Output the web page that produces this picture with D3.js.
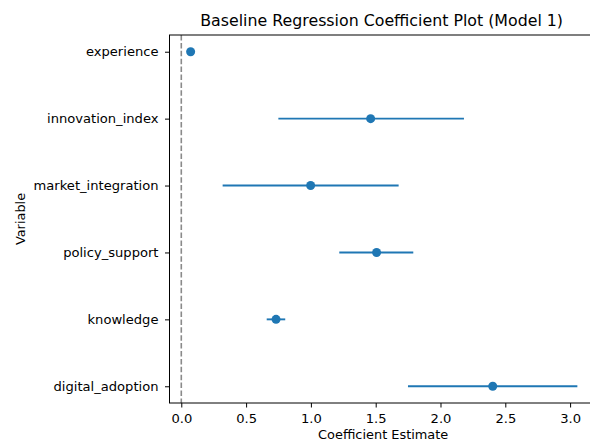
<!DOCTYPE html>
<html>
<head>
<meta charset="utf-8">
<script src="https://cdn.jsdelivr.net/npm/d3@7"></script>
<style>
  body { margin: 0; background: #fff; }
  text { font-family: "DejaVu Sans", sans-serif; fill: #000; }
</style>
</head>
<body>
<div id="chart"></div>
<script>
// coefficient estimates with confidence interval bounds
let variables = ["experience", "innovation_index", "market_integration",
                 "policy_support", "knowledge", "digital_adoption"]
let coefs  = [0.072, 1.461, 0.998, 1.507, 0.731, 2.403]
let ciLow  = [0.059, 0.749, 0.319, 1.219, 0.659, 1.749]
let ciHigh = [0.085, 2.181, 1.677, 1.790, 0.802, 3.056]
let xTicks = [0, 0.5, 1.0, 1.5, 2.0, 2.5, 3.0]

let rows = variables.map((v, i) => ({name: v, coef: coefs[i], lo: ciLow[i], hi: ciHigh[i]}))

let svg_width = 590
let svg_height = 443
let axLeft = 169.5, axRight = 596.8, axTop = 35, axBottom = 403
let blue = "#1f77b4"

let svg = d3.select("#chart")
  .append("svg")
  .attr("width", svg_width)
  .attr("height", svg_height)

// x: coefficient value, y: one slot per variable
let xScale = d3.scaleLinear()
               .domain([-0.091, 3.206])
               .range([axLeft, axRight])

let yScale = d3.scalePoint()
               .domain(variables)
               .range([axTop, axBottom])
               .padding(0.25)

// reference line at zero
svg.append("line")
   .attr("x1", xScale(0)).attr("x2", xScale(0))
   .attr("y1", axTop).attr("y2", axBottom)
   .attr("stroke", "#8a8a8a")
   .attr("stroke-width", 1.6)
   .attr("stroke-dasharray", "5.5,2.4")

// error bars
svg.selectAll("line.err")
   .data(rows)
   .enter()
   .append("line")
   .attr("class", "err")
   .attr("x1", d => xScale(d.lo))
   .attr("x2", d => xScale(d.hi))
   .attr("y1", d => yScale(d.name))
   .attr("y2", d => yScale(d.name))
   .attr("stroke", blue)
   .attr("stroke-width", 1.9)

// point estimates
svg.selectAll("circle")
   .data(rows)
   .enter()
   .append("circle")
   .attr("cx", d => xScale(d.coef))
   .attr("cy", d => yScale(d.name))
   .attr("r", 4.5)
   .attr("fill", blue)

// frame
svg.append("rect")
   .attr("x", axLeft).attr("y", axTop)
   .attr("width", axRight - axLeft).attr("height", axBottom - axTop)
   .attr("fill", "none")
   .attr("stroke", "#000")
   .attr("stroke-width", 1)

function styleAxis(g) {
  g.select(".domain").remove()
  g.selectAll(".tick line").attr("stroke", "#000").attr("stroke-width", 1)
  g.selectAll(".tick text")
   .attr("fill", "#000")
   .style("font-size", "13.1px")
   .style("font-family", "'DejaVu Sans', sans-serif")
}

svg.append("g")
   .attr("transform", `translate(0,${axBottom})`)
   .call(d3.axisBottom(xScale).tickValues(xTicks).tickFormat(d3.format(".1f"))
           .tickSize(4.5).tickPadding(6))
   .call(styleAxis)

svg.append("g")
   .attr("transform", `translate(${axLeft},0)`)
   .call(d3.axisLeft(yScale).tickSize(4.5).tickPadding(6.5))
   .call(styleAxis)

// title and axis labels
svg.append("text")
   .attr("x", (axLeft + axRight) / 2 - 1.5)
   .attr("y", 26)
   .attr("text-anchor", "middle")
   .style("font-size", "15.8px")
   .text("Baseline Regression Coefficient Plot (Model 1)")

svg.append("text")
   .attr("x", (axLeft + axRight) / 2)
   .attr("y", 439)
   .attr("text-anchor", "middle")
   .style("font-size", "12.9px")
   .text("Coefficient Estimate")

svg.append("text")
   .attr("transform", `translate(25,${(axTop + axBottom) / 2}) rotate(-90)`)
   .attr("text-anchor", "middle")
   .style("font-size", "12.9px")
   .text("Variable")
</script>
</body>
</html>
